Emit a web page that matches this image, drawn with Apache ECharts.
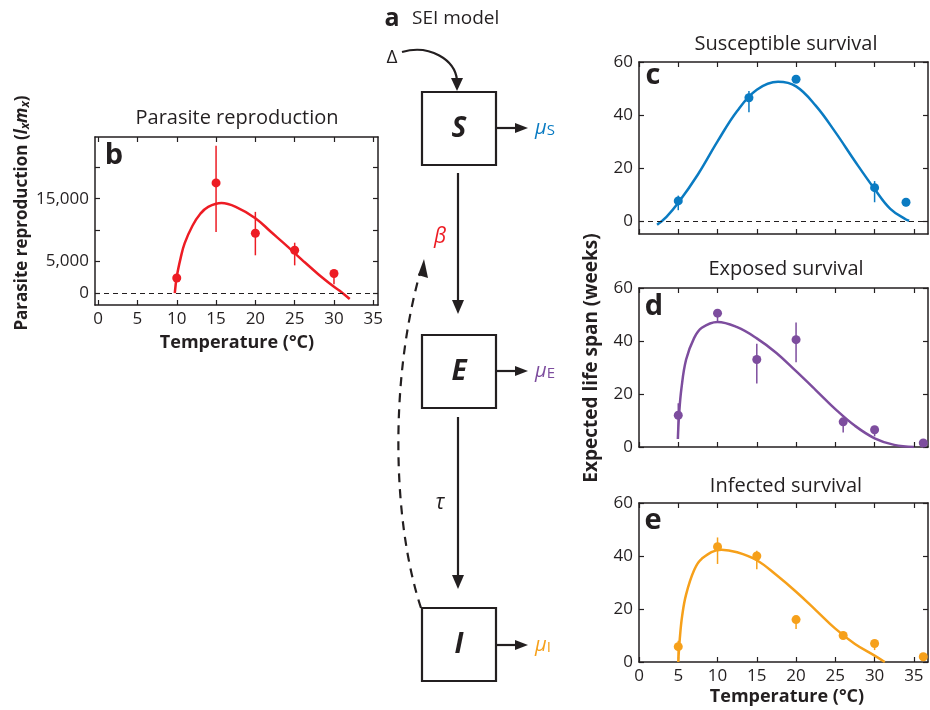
<!DOCTYPE html>
<html>
<head>
<meta charset="utf-8">
<script src="https://cdn.jsdelivr.net/npm/echarts@6/dist/echarts.min.js"></script>
<style>
html, body { margin: 0; padding: 0; background: #fff; }
#chart { width: 930px; height: 710px; }
</style>
</head>
<body>
<div id="chart"></div>
<script>
// ticks
const tempTicks = [0, 5, 10, 15, 20, 25, 30, 35];
const reproTicks = [0, 5000, 10000, 15000, 20000];
const reproLabels = [0, 5000, 15000];
const lifeTicks = [0, 20, 40, 60];

// b: parasite reproduction
const reproPoints = [[10, 2400], [15, 17500], [20, 9500], [25, 6800], [30, 3100]];
const reproErr = [[15, 9700, 23400], [20, 6000, 12900], [25, 4400, 8000], [30, 1400, 3100]];
const reproCurve = [[9.75, 0], [10, 2600], [10.5, 5600], [11, 7900], [12, 10700], [13, 12600], [14, 13700], [15.7, 14300], [17.5, 13700], [20, 11900], [22, 9700], [24, 7500], [26, 5200], [28, 3000], [30, 1000], [31, 100], [32, -950]];

// c: susceptible survival
const suscPoints = [[5, 7.5], [14, 46.5], [20, 53.5], [30, 12.5], [34, 7]];
const suscErr = [[5, 4, 9.5], [14, 41, 49], [30, 7, 15], [34, 5.5, 7]];
const suscCurve = [[2.3, -1.5], [3.5, 1.5], [5, 6.8], [7.5, 17.5], [10, 30], [12.5, 41.5], [15, 49.5], [17.7, 52.5], [20, 50.8], [22.5, 43.5], [25, 33.5], [27.5, 22.5], [30, 12], [32, 4.5], [34, 0.5], [34.4, 0]];

// d: exposed survival
const expPoints = [[5, 12], [10, 50.5], [15, 33], [20, 40.5], [26, 9.5], [30, 6.5], [36.2, 1.5]];
const expErr = [[5, 4, 16.5], [10, 47, 50.5], [15, 24, 39], [20, 32, 47], [26, 5.5, 9.5], [30, 4, 6.5]];
const expCurve = [[4.95, 3], [5.1, 12], [5.4, 22], [6, 33], [7, 41], [8, 45], [10, 47.2], [12.5, 45.2], [15, 41], [17.5, 35.5], [20, 28.6], [22.5, 21.5], [25, 14.3], [27.5, 8], [30, 3.3], [32.5, 0.8], [35, 0]];

// e: infected survival
const infPoints = [[5, 5.8], [10, 43.5], [15, 40], [20, 16], [26, 10], [30, 7], [36.2, 2]];
const infErr = [[5, 1, 8], [10, 37, 47], [15, 35, 42], [20, 12.5, 17], [26, 9, 11], [30, 4.5, 7]];
const infCurve = [[5, 0], [5.2, 9], [5.5, 17.5], [6, 25.5], [7, 34.5], [8, 39], [10.5, 42.4], [12.5, 41.4], [15, 38.4], [17.5, 32.8], [20, 26.5], [22.5, 19.6], [25, 12.6], [27.5, 6.8], [30, 2.4], [31.3, 0]];

const INK = '#231f20';
const FONT = '"Open Sans", "Noto Sans", sans-serif';
const RED = '#ED1C24', BLUE = '#0A7BC2', PURPLE = '#7D4D9E', ORANGE = '#F6A01A';

const grids = [
    { left: 95, right: 552, top: 137, bottom: 405 },
    { left: 639, right: 2, top: 62, bottom: 476 },
    { left: 639, right: 2, top: 288, bottom: 263 },
    { left: 639, right: 2, top: 503, bottom: 48 }
];
const panels = [
    { xMin: -0.4, xMax: 35.6, yMin: -1900, yMax: 24800, yTicks: reproTicks, yLabels: reproLabels, xLabels: true },
    { xMin: 0, xMax: 36.8, yMin: -5, yMax: 60, yTicks: lifeTicks, yLabels: lifeTicks, xLabels: false },
    { xMin: 0, xMax: 36.8, yMin: 0, yMax: 60, yTicks: lifeTicks, yLabels: lifeTicks, xLabels: false },
    { xMin: 0, xMax: 36.8, yMin: 0, yMax: 60, yTicks: lifeTicks, yLabels: lifeTicks, xLabels: true }
];

const axisLine = { show: true, onZero: false, lineStyle: { color: INK, width: 1.5 } };
const tick = vals => ({ show: true, inside: true, length: 5, customValues: vals, lineStyle: { color: INK, width: 1.2 } });
const labelStyle = { color: INK, fontSize: 17, fontFamily: FONT };

const xAxis = [], yAxis = [];
panels.forEach((p, i) => {
    ['bottom', 'top'].forEach(pos => {
        xAxis.push({
            type: 'value', gridIndex: i, position: pos, min: p.xMin, max: p.xMax,
            axisLine, axisTick: tick(tempTicks), splitLine: { show: false },
            axisLabel: pos === 'bottom' && p.xLabels
                ? Object.assign({ show: true, margin: 6, customValues: tempTicks }, labelStyle)
                : { show: false }
        });
    });
    ['left', 'right'].forEach(pos => {
        yAxis.push({
            type: 'value', gridIndex: i, position: pos, min: p.yMin, max: p.yMax,
            axisLine, axisTick: tick(p.yTicks), splitLine: { show: false },
            axisLabel: pos === 'left'
                ? Object.assign({ show: true, margin: 6, customValues: p.yLabels,
                    formatter: v => v.toLocaleString('en-US') }, labelStyle)
                : { show: false }
        });
    });
});

const zeroLine = {
    silent: true, symbol: 'none', label: { show: false },
    lineStyle: { type: [5, 4], color: INK, width: 1.2 },
    data: [{ yAxis: 0 }]
};

function panelSeries(i, color, points, errs, curve, dashedZero) {
    const ax = { xAxisIndex: i * 2, yAxisIndex: i * 2 };
    return [
        Object.assign({
            type: 'line', data: curve, smooth: 0.4, showSymbol: false,
            lineStyle: { color, width: 2.5 }, z: 3,
            markLine: dashedZero ? zeroLine : undefined
        }, ax),
        Object.assign({
            type: 'custom', data: errs, z: 2,
            encode: { x: 0, y: [1, 2] },
            renderItem: (params, api) => {
                const lo = api.coord([api.value(0), api.value(1)]);
                const hi = api.coord([api.value(0), api.value(2)]);
                return { type: 'line', shape: { x1: lo[0], y1: lo[1], x2: hi[0], y2: hi[1] },
                    style: { stroke: color, lineWidth: 1.5 } };
            }
        }, ax),
        Object.assign({
            type: 'scatter', data: points, symbolSize: 9,
            itemStyle: { color, opacity: 1 }, z: 4
        }, ax)
    ];
}

const series = [].concat(
    panelSeries(0, RED, reproPoints, reproErr, reproCurve, true),
    panelSeries(1, BLUE, suscPoints, suscErr, suscCurve, true),
    panelSeries(2, PURPLE, expPoints, expErr, expCurve, false),
    panelSeries(3, ORANGE, infPoints, infErr, infCurve, false)
);

// text helpers
const txt = (x, y, text, font, extra) => ({
    type: 'text', x, y, silent: true,
    style: Object.assign({ text, fill: INK, font, align: 'center', verticalAlign: 'middle' }, extra || {})
});
const arrowLine = (x1, y1, x2, y2) => ({ type: 'line', silent: true, shape: { x1, y1, x2, y2 }, style: { stroke: INK, lineWidth: 2.2 } });
const head = pts => ({ type: 'polygon', silent: true, shape: { points: pts }, style: { fill: INK } });
const box = (x, y) => ({ type: 'rect', silent: true, shape: { x, y, width: 74, height: 73 }, style: { fill: '#fff', stroke: INK, lineWidth: 2.2 } });
const mu = (x, y, sub, color) => txt(x, y, '{m|μ}{s|' + sub + '}', '', {
    align: 'left', rich: {
        m: { fontFamily: FONT, fontStyle: 'italic', fontSize: 20, fill: color },
        s: { fontFamily: FONT, fontSize: 15, fill: color, padding: [6, 0, 0, 0] }
    }
});

const graphic = [
    // panel titles
    txt(237, 118, 'Parasite reproduction', '20px ' + FONT),
    txt(786, 44, 'Susceptible survival', '20px ' + FONT),
    txt(786, 269, 'Exposed survival', '20px ' + FONT),
    txt(786, 486, 'Infected survival', '20px ' + FONT),
    // panel letters
    txt(114, 156, 'b', 'bold 29px ' + FONT),
    txt(653, 76, 'c', 'bold 29px ' + FONT),
    txt(654, 307, 'd', 'bold 29px ' + FONT),
    txt(653, 521, 'e', 'bold 29px ' + FONT),
    // axis titles
    txt(237, 343, 'Temperature (°C)', 'bold 18px ' + FONT),
    txt(787, 697, 'Temperature (°C)', 'bold 18px ' + FONT),
    Object.assign(txt(592, 358, 'Expected life span (weeks)', 'bold 19px ' + FONT), { rotation: Math.PI / 2 }),
    Object.assign(txt(22, 213, '{b|Parasite reproduction (}{i|l}{u|x}{i|m}{u|x}{b|)}', '', {
        rich: {
            b: { fontFamily: FONT, fontWeight: 'bold', fontSize: 17, fill: INK },
            i: { fontFamily: FONT, fontWeight: 'bold', fontStyle: 'italic', fontSize: 17, fill: INK },
            u: { fontFamily: FONT, fontWeight: 'bold', fontStyle: 'italic', fontSize: 12, fill: INK, padding: [7, 0, 0, 0] }
        }
    }), { rotation: Math.PI / 2 }),

    // a: SEI model diagram
    txt(392, 19, 'a', 'bold 25px ' + FONT),
    txt(412, 19, 'SEI model', '19px ' + FONT, { align: 'left' }),
    txt(392, 58, 'Δ', '19px ' + FONT),
    { type: 'bezierCurve', silent: true, shape: { x1: 402, y1: 52, cpx1: 430, cpy1: 44, cpx2: 455, cpy2: 60, x2: 457, y2: 80 },
      style: { stroke: INK, lineWidth: 2.2, fill: 'none' } },
    head([[451, 78], [463, 78], [457, 91]]),
    box(422, 92), box(422, 335), box(422, 608),
    txt(459, 129, 'S', 'italic bold 28px ' + FONT),
    txt(459, 372, 'E', 'italic bold 28px ' + FONT),
    txt(459, 645, 'I', 'italic bold 28px ' + FONT),
    arrowLine(496, 128, 518, 128), head([[515, 123], [515, 133], [528, 128]]),
    arrowLine(496, 371, 518, 371), head([[515, 366], [515, 376], [528, 371]]),
    arrowLine(496, 645, 518, 645), head([[515, 640], [515, 650], [528, 645]]),
    mu(535, 128, 'S', BLUE),
    mu(535, 371, 'E', PURPLE),
    mu(535, 645, 'I', ORANGE),
    arrowLine(458, 173, 458, 302), head([[452, 300], [464, 300], [458, 314]]),
    arrowLine(458, 417, 458, 577), head([[452, 575], [464, 575], [458, 589]]),
    txt(440, 237, 'β', 'italic 21px ' + FONT, { fill: RED }),
    txt(440, 503, 'τ', 'italic 21px ' + FONT),
    { type: 'bezierCurve', silent: true, shape: { x1: 421, y1: 608, cpx1: 392, cpy1: 520, cpx2: 390, cpy2: 380, x2: 420, y2: 273 },
      style: { stroke: INK, lineWidth: 2.2, fill: 'none', lineDash: [9, 7] } },
    head([[418, 275], [428, 278], [424, 259]])
];

const myChart = echarts.init(document.getElementById('chart'));
myChart.setOption({
    animation: false,
    grid: grids,
    xAxis,
    yAxis,
    series,
    graphic
});
</script>
</body>
</html>
